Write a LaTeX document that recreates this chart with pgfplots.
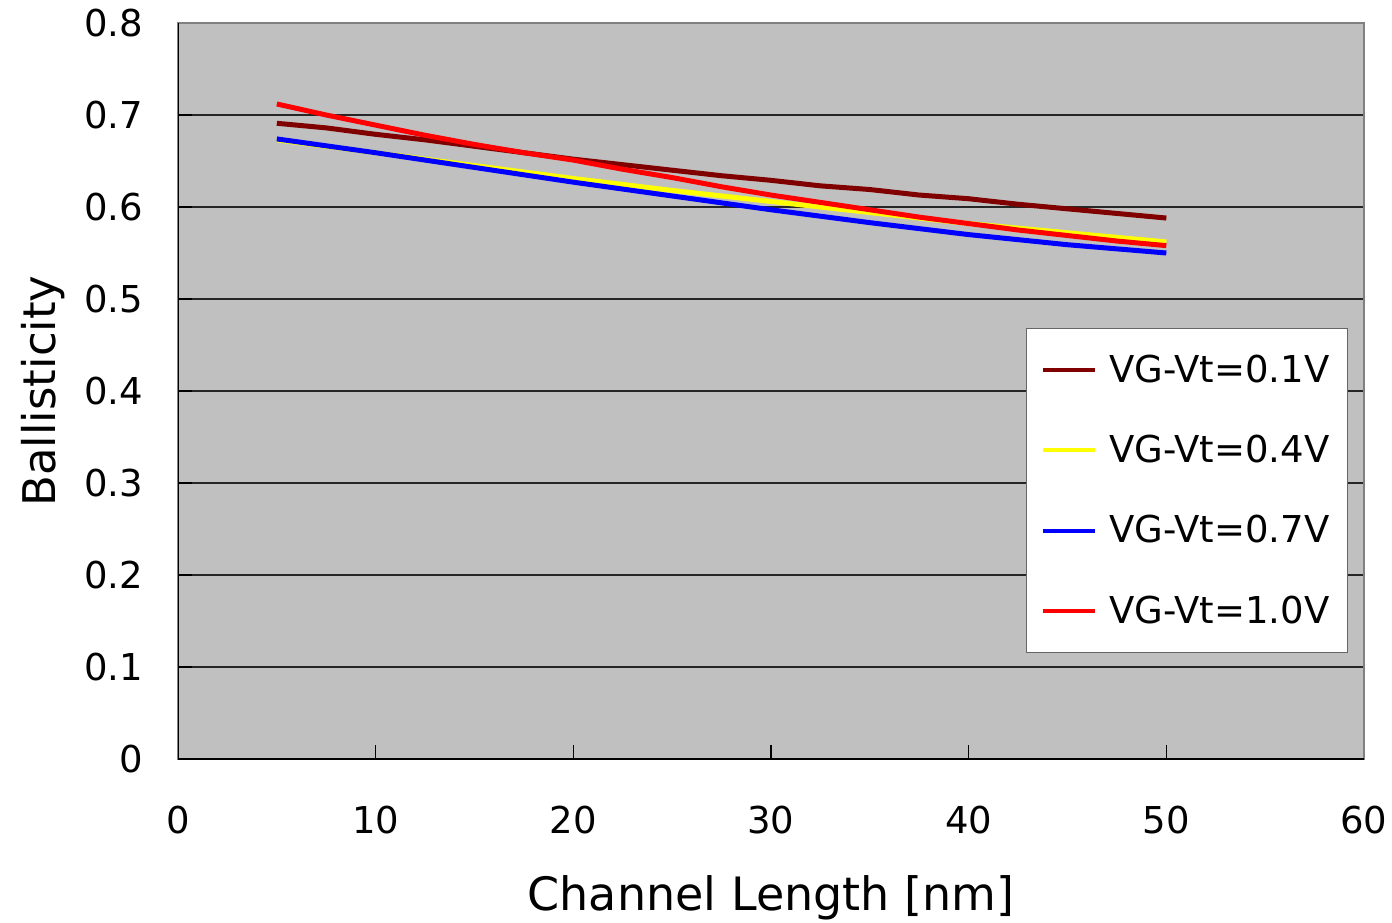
\documentclass[border=0pt]{standalone}
\usepackage{fontspec}
\setmainfont{DejaVu Sans}
\usepackage{pgfplots}
\pgfplotsset{compat=1.18}

\definecolor{plotbg}{RGB}{192,192,192}
\definecolor{s01}{RGB}{128,0,0}
\definecolor{s04}{RGB}{255,255,0}
\definecolor{s07}{RGB}{0,0,255}
\definecolor{s10}{RGB}{255,0,0}

\begin{document}
\begin{tikzpicture}
\path[use as bounding box] (0,0) rectangle (696pt,461pt);
\begin{axis}[
    scale only axis,
    width=593pt, height=368pt,
    at={(89pt,81.5pt)}, anchor=south west,
    xmin=0, xmax=60, ymin=0, ymax=0.8,
    xtick={0,10,...,60},
    ytick={0,0.1,...,0.8},
    /pgf/number format/assume math mode=true,
    tick label style={font=\fontsize{18.5}{22}\selectfont},
    xticklabel style={yshift=-20pt},
    yticklabel style={xshift=-14pt},
    yticklabel={\pgfmathprintnumber[fixed,precision=1]{\tick}},
    tick align=inside,
    major tick length=7pt,
    xtick pos=bottom, ytick pos=left,
    tick style={black, line width=0.6pt},
    ymajorgrids,
    grid style={black!85, line width=0.6pt},
    axis line style={black!50, line width=0.8pt},
    axis background/.style={fill=plotbg},
    xlabel={Channel Length [nm]},
    ylabel={Ballisticity},
    xlabel style={font=\fontsize{23}{27}\selectfont, at={(axis description cs:0.5,-0.206)}, anchor=base},
    ylabel style={font=\fontsize{22.5}{26}\selectfont, at={(axis description cs:-0.1037,0.5)}, anchor=base, rotate=0},
    legend cell align=left,
    legend style={
        at={(0.9865,0.5856)}, anchor=north east,
        font=\fontsize{18.5}{22}\selectfont,
        draw=black!60, line width=0.6pt, fill=white,
        row sep=21pt, inner xsep=7pt, inner ysep=11pt,
    },
    legend image code/.code={\draw[#1, line width=2pt] (0pt,0pt) -- (26pt,0pt); \path (30pt,0pt);},
]

\addplot[s01, line width=2.5pt] coordinates {
    (5,0.691) (7.5,0.686) (10,0.679) (12.5,0.673) (15,0.666) (17.5,0.659)
    (20,0.652) (22.5,0.646) (25,0.640) (27.5,0.634) (30,0.629) (32.5,0.623)
    (35,0.619) (37.5,0.613) (40,0.609) (42.5,0.603) (45,0.598) (47.5,0.593) (50,0.588)
};
\addlegendentry{VG-Vt=0.1V}

\addplot[s04, line width=2.5pt] coordinates {
    (5,0.673) (10,0.659) (15,0.645) (20,0.631) (25,0.618) (30,0.606)
    (35,0.594) (40,0.582) (45,0.572) (50,0.562)
};
\addlegendentry{VG-Vt=0.4V}

\addplot[s07, line width=2.5pt] coordinates {
    (5,0.674) (10,0.659) (15,0.643) (20,0.627) (25,0.612) (30,0.597)
    (35,0.583) (40,0.570) (45,0.559) (50,0.550)
};
\addlegendentry{VG-Vt=0.7V}

\addplot[s10, line width=2.5pt] coordinates {
    (5,0.712) (7.5,0.700) (10,0.689) (12.5,0.678) (15,0.668) (17.5,0.659)
    (20,0.651) (22.5,0.641) (25,0.632) (27.5,0.622) (30,0.613) (32.5,0.605)
    (35,0.597) (37.5,0.589) (40,0.582) (42.5,0.575) (45,0.569) (47.5,0.563) (50,0.558)
};
\addlegendentry{VG-Vt=1.0V}

\draw[black, line width=0.8pt] (rel axis cs:0,1) -- (rel axis cs:0,0) -- (rel axis cs:1,0);
\end{axis}
\end{tikzpicture}
\end{document}
